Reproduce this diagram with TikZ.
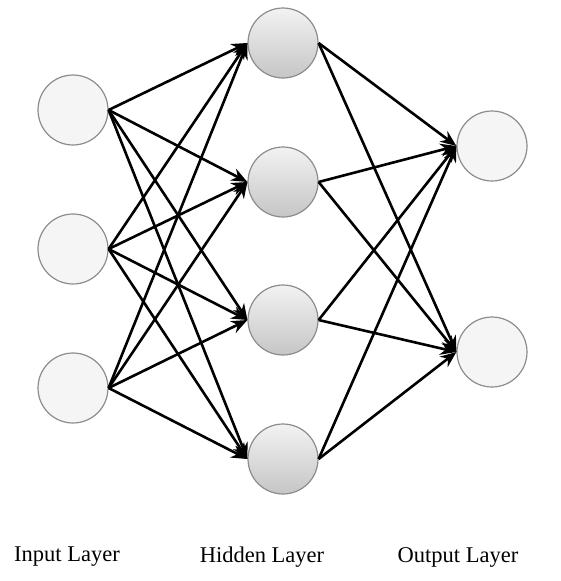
\documentclass[tikz,border=0pt]{standalone}
\usepackage{fontspec}
\setmainfont{Liberation Serif}
\usetikzlibrary{arrows.meta}

\tikzset{
  unit/.style={circle, minimum size=70pt, inner sep=0pt, draw=gray!90, line width=1.2pt, fill=gray!8},
  hidunit/.style={unit, top color=gray!10, bottom color=gray!45},
  link/.style={line width=2.6pt, -{Stealth[length=16pt, width=13pt]}},
  caption/.style={font=\fontsize{22.5}{26}\selectfont}
}

\begin{document}
\begin{tikzpicture}[x=1pt, y=-1pt]
        \useasboundingbox (0,0) rectangle (560,581);

        % Input layer (3 units)
        \foreach \i/\y in {1/110, 2/249, 3/388}
          \node[unit] (i\i) at (73,\y) {};

        % Hidden layer (4 units), shaded
        \foreach \j/\y in {1/43, 2/182, 3/320, 4/459}
          \node[hidunit] (h\j) at (283,\y) {};

        % Output layer (2 units)
        \foreach \k/\y in {1/146, 2/352}
          \node[unit] (o\k) at (492,\y) {};

        % Fully connected: input -> hidden -> output
        \foreach \i in {1,2,3}
          \foreach \j in {1,2,3,4}
            \draw[link] (i\i.east) -- (h\j.west);
        \foreach \j in {1,2,3,4}
          \foreach \k in {1,2}
            \draw[link] (h\j.east) -- (o\k.west);

        % Layer names
        \node[caption] (inlab) at (67,557) {Input Layer};
        \node[caption] (hidlab) at (262,557) {Hidden Layer};
        \node[caption] (outlab) at (458,557) {Output Layer};
\end{tikzpicture}
\end{document}
